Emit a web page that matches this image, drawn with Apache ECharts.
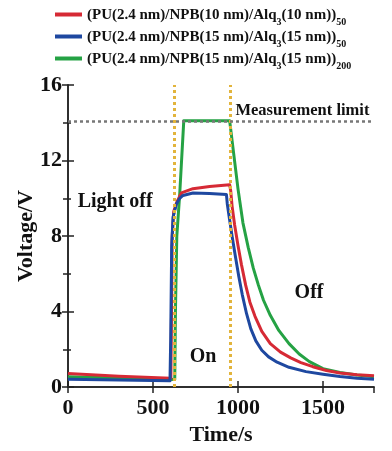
<!DOCTYPE html>
<html>
<head>
<meta charset="utf-8">
<script src="https://cdn.jsdelivr.net/npm/echarts@6/dist/echarts.min.js"></script>
<style>
  html, body { margin: 0; padding: 0; background: #fff; }
  #chart { width: 392px; height: 451px; }
</style>
</head>
<body>
<div id="chart"></div>
<script>
// series names (legend)
const seriesNames = ['red10', 'blue15', 'green15x200']
const legendLabels = {
  red10: '{n|(PU(2.4 nm)/NPB(10 nm)/Alq}{s|3}{n|(10 nm))}{s|50}',
  blue15: '{n|(PU(2.4 nm)/NPB(15 nm)/Alq}{s|3}{n|(15 nm))}{s|50}',
  green15x200: '{n|(PU(2.4 nm)/NPB(15 nm)/Alq}{s|3}{n|(15 nm))}{s|200}'
}

// time (s) and voltage (V)
const redTime = [0, 300, 605, 608, 613, 622, 640, 667, 735, 833, 951, 957, 965, 980, 1000, 1020, 1045, 1070, 1100, 1140, 1190, 1250, 1310, 1370, 1440, 1520, 1600, 1700, 1800]
const redVolt = [0.72, 0.58, 0.47, 3, 8, 9.3, 9.8, 10.29, 10.51, 10.63, 10.72, 10.4, 9.6, 8.6, 7.5, 6.5, 5.4, 4.5, 3.75, 2.95, 2.3, 1.85, 1.55, 1.3, 1.08, 0.88, 0.75, 0.66, 0.6]

const blueTime = [0, 300, 600, 604, 610, 618, 638, 657, 676, 735, 833, 932, 937, 950, 965, 985, 1005, 1025, 1050, 1075, 1105, 1140, 1180, 1230, 1300, 1400, 1500, 1600, 1700, 1800]
const blueVolt = [0.42, 0.37, 0.33, 2.5, 7.5, 9.0, 9.7, 10.0, 10.15, 10.28, 10.25, 10.2, 9.7, 8.9, 8.0, 6.9, 5.85, 4.9, 3.9, 3.1, 2.45, 1.95, 1.6, 1.32, 1.05, 0.82, 0.68, 0.56, 0.47, 0.42]

const greenTime = [0, 300, 628, 632, 640, 657, 681, 951, 1000, 1029, 1060, 1090, 1120, 1150, 1190, 1240, 1300, 1360, 1420, 1500, 1600, 1700, 1800]
const greenVolt = [0.55, 0.48, 0.4, 4, 8, 10.2, 14.1, 14.1, 10.5, 8.7, 7.4, 6.3, 5.4, 4.6, 3.8, 3.0, 2.3, 1.75, 1.35, 0.98, 0.77, 0.64, 0.55]

// light switch times and measurement limit
const switchTimes = [625, 955]
const measurementLimit = 14.1

// annotation texts (time, voltage, text, size)
const notes = [
  [985, 14.65, 'Measurement limit', 16.5],
  [57, 9.82, 'Light off', 20],
  [716, 1.6, 'On', 20],
  [1333, 5.0, 'Off', 20]
]

const xTicks = { min: 0, max: 1800, interval: 500 }
const yTicks = { min: 0, max: 16, interval: 4 }

const FONT = '"Liberation Serif", "DejaVu Serif", serif'
const colors = ['#d62a35', '#1e48a0', '#25a244']

const zip = (t, v) => t.map((x, i) => [x, v[i]])
const chart = echarts.init(document.getElementById('chart'))

const axisBase = {
  axisLine: { show: true, lineStyle: { color: '#222', width: 1.5 } },
  axisTick: { show: true, inside: true, length: 6, lineStyle: { color: '#222', width: 1.5 } },
  splitLine: { show: false }
}

const lineSeries = (i, time, volt, z) => ({
  name: seriesNames[i], type: 'line', data: zip(time, volt),
  showSymbol: false, z,
  lineStyle: { width: 3, color: colors[i], join: 'round' }, itemStyle: { color: colors[i] }
})

const option = {
  animation: false,
  backgroundColor: '#fff',
  grid: { left: 68, right: 18, top: 85, bottom: 58 },
  legend: {
    orient: 'vertical',
    left: 50,
    top: 3,
    itemWidth: 27,
    itemHeight: 4,
    itemGap: 3,
    icon: 'rect',
    data: seriesNames,
    formatter: name => legendLabels[name],
    textStyle: {
      rich: {
        n: { fontFamily: FONT, fontWeight: 'bold', fontSize: 15, color: '#111', lineHeight: 17, verticalAlign: 'bottom' },
        s: { fontFamily: FONT, fontWeight: 'bold', fontSize: 10, color: '#111', lineHeight: 17, verticalAlign: 'bottom', padding: [0, 0, -4, 0] }
      }
    }
  },
  xAxis: [
    {
      ...axisBase,
      type: 'value',
      min: xTicks.min, max: xTicks.max, interval: xTicks.interval,
      name: 'Time/s',
      nameLocation: 'middle',
      nameGap: 36,
      nameTextStyle: { fontFamily: FONT, fontWeight: 'bold', fontSize: 22, color: '#111' },
      axisLabel: { fontFamily: FONT, fontWeight: 'bold', fontSize: 22, color: '#111', margin: 10,
        showMaxLabel: false, formatter: v => String(v) }
    },
    {
      ...axisBase,
      type: 'value', position: 'top',
      min: xTicks.min, max: xTicks.max, interval: xTicks.interval,
      axisLabel: { show: false }
    }
  ],
  yAxis: [
    {
      ...axisBase,
      type: 'value',
      min: yTicks.min, max: yTicks.max, interval: yTicks.interval,
      minorTick: { show: true, splitNumber: 2, length: 3, lineStyle: { color: '#222', width: 1.5 } },
      name: 'Voltage/V',
      nameLocation: 'middle',
      nameGap: 31,
      nameMoveOverlap: false,
      nameTextStyle: { fontFamily: FONT, fontWeight: 'bold', fontSize: 22, color: '#111' },
      axisLabel: { fontFamily: FONT, fontWeight: 'bold', fontSize: 22, color: '#111', margin: 6 }
    },
    {
      ...axisBase,
      type: 'value', position: 'right',
      min: yTicks.min, max: yTicks.max, interval: yTicks.interval,
      minorTick: { show: true, splitNumber: 2, length: 5, lineStyle: { color: '#222', width: 1.5 } },
      axisLabel: { show: false }
    }
  ],
  series: [
    {
      ...lineSeries(0, redTime, redVolt, 3),
      markLine: {
        silent: true, symbol: 'none', label: { show: false },
        data: [
          ...switchTimes.map(t => ({ xAxis: t, lineStyle: { color: '#e2b43c', width: 3, type: [3, 3] } })),
          { yAxis: measurementLimit, lineStyle: { color: '#777', width: 2.5, type: [3, 3] } }
        ]
      }
    },
    lineSeries(1, blueTime, blueVolt, 4),
    lineSeries(2, greenTime, greenVolt, 2),
    {
      type: 'scatter', symbolSize: 0, silent: true, z: 5,
      itemStyle: { opacity: 1 },
      data: notes.map(n => ({
        value: [n[0], n[1]],
        label: { show: true, position: 'right', distance: 0, formatter: n[2],
          fontFamily: FONT, fontWeight: 'bold', fontSize: n[3], color: '#111' }
      }))
    }
  ]
}

chart.setOption(option)
</script>
</body>
</html>
